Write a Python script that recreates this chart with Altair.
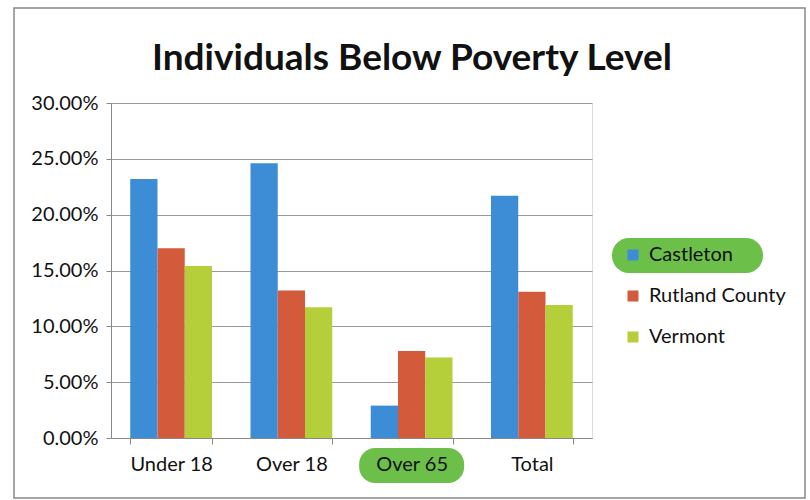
import altair as alt
import pandas as pd

categories = ["Under 18", "Over 18", "Over 65", "Total"]
series = ["Castleton", "Rutland County", "Vermont"]
castleton = [0.232, 0.246, 0.029, 0.217]
rutland = [0.170, 0.132, 0.078, 0.131]
vermont = [0.154, 0.117, 0.072, 0.119]
colors = ["#3c8dd6", "#d45a3c", "#b4cf3a"]
highlight_category = "Over 65"
highlight_series = "Castleton"
title_text = "Individuals Below Poverty Level"

rows = []
for name, vals in zip(series, [castleton, rutland, vermont]):
    for c, v in zip(categories, vals):
        rows.append({"category": c, "series": name, "value": v})
df = pd.DataFrame(rows)

W, H = 481, 335
PL, PT = 111, 103
FONT = "Lato"
GREEN = "#6cc04a"

x_scale = alt.Scale(paddingInner=0.32, paddingOuter=0.16)
x_axis = alt.Axis(title=None, labelAngle=0, labelFontSize=20, labelFont=FONT,
                  labelPadding=10, tickBand="extent", tickSize=6,
                  domainColor="#888", tickColor="#888", labelColor="#111",
                  zindex=1)

bars = alt.Chart(df).mark_bar().encode(
    x=alt.X("category:N", sort=categories, scale=x_scale, axis=x_axis),
    xOffset=alt.XOffset("series:N", sort=series),
    y=alt.Y("value:Q", scale=alt.Scale(domain=[0, 0.30]),
            axis=alt.Axis(title=None, format=".2%", values=[0, 0.05, 0.10, 0.15, 0.20, 0.25, 0.30],
                          labelFontSize=20, labelFont=FONT, labelColor="#111",
                          gridColor="#999", domainColor="#888", tickColor="#888",
                          tickSize=5, labelPadding=8)),
    color=alt.Color("series:N", sort=series,
                    scale=alt.Scale(domain=series, range=colors),
                    legend=alt.Legend(title=None, orient="none", legendX=512, legendY=142,
                                      symbolType="square", symbolSize=121, symbolStrokeWidth=0,
                                      labelFontSize=20, labelFont=FONT, labelColor="#111",
                                      rowPadding=21, padding=0, labelOffset=6)),
)

cat_hl = alt.Chart(pd.DataFrame({"category": [highlight_category]})).mark_bar(
    width=105, cornerRadius=16, color=GREEN
).encode(
    x=alt.X("category:N", sort=categories, scale=x_scale, axis=x_axis),
    y=alt.value(H + 10), y2=alt.value(H + 45),
)

leg_hl = alt.Chart(pd.DataFrame({"series": [highlight_series]})).mark_rect(
    cornerRadius=17, color=GREEN
).encode(
    x=alt.value(612 - PL), x2=alt.value(763 - PL),
    y=alt.value(238 - PT), y2=alt.value(273 - PT),
)

frame = alt.Chart(pd.DataFrame({"f": [0]})).mark_rect(
    filled=False, stroke="#888", strokeWidth=1.5
).encode(
    x=alt.value(14 - PL), x2=alt.value(805 - PL),
    y=alt.value(8 - PT), y2=alt.value(498 - PT),
)

title = alt.Chart(pd.DataFrame({"t": [title_text]})).mark_text(
    font=FONT, fontSize=37, fontWeight="bold", color="#111",
    align="center", baseline="alphabetic"
).encode(
    text="t:N",
    x=alt.value(412 - PL), y=alt.value(70 - PT),
)

chart = alt.layer(frame, cat_hl, leg_hl, bars, title).properties(
    width=W, height=H,
    autosize=alt.AutoSizeParams(type="none"),
    padding={"left": PL, "top": PT, "right": 810 - PL - W, "bottom": 500 - PT - H},
).configure_view(stroke=None).configure(background="white")

chart.save("out.html", embed_options={"renderer": "svg", "actions": False})
